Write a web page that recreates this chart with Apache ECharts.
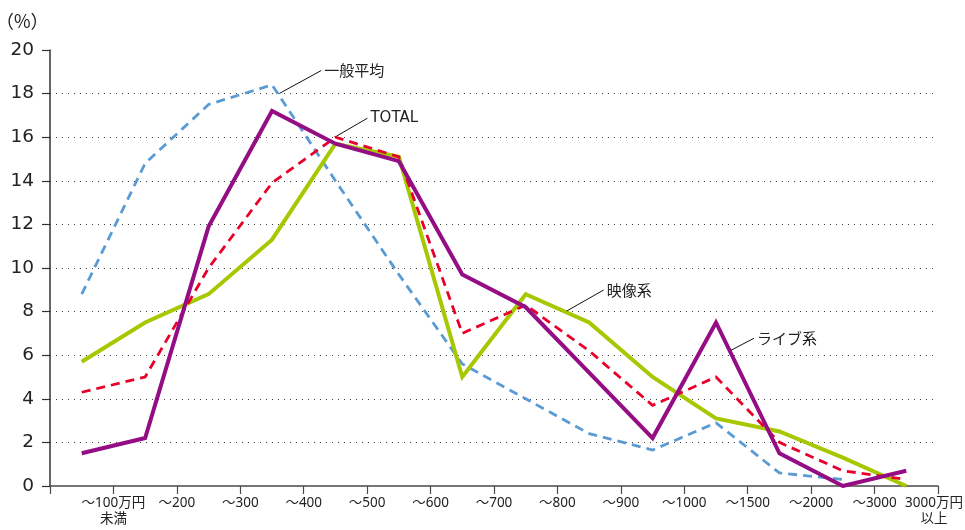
<!DOCTYPE html>
<html>
<head>
<meta charset="utf-8">
<script src="https://cdn.jsdelivr.net/npm/echarts@6/dist/echarts.min.js"></script>
<style>
html, body { margin: 0; padding: 0; background: #fff; }
#chart { width: 965px; height: 530px; }
</style>
</head>
<body>
<div id="chart"></div>
<script>
// Income bands (labels sit on the upper boundary of each band)
const incomeBands = ['〜100万円\n未満', '〜200', '〜300', '〜400', '〜500', '〜600', '〜700',
  '〜800', '〜900', '〜1000', '〜1500', '〜2000', '〜3000', '3000万円\n以上'];

// Share of respondents per band (%)
const generalAverage = [8.8, 14.8, 17.5, 18.4, 14.0, 9.7, 5.6, 4.0, 2.4, 1.65, 2.9, 0.6, 0.3, null];
const total          = [4.3, 5.0, 10.0, 13.9, 16.0, 15.1, 7.0, 8.3, 6.2, 3.7, 5.0, 2.0, 0.7, 0.3];
const video          = [5.7, 7.5, 8.8, 11.3, 15.7, 15.1, 5.0, 8.8, 7.5, 5.0, 3.1, 2.5, 1.3, 0.0];
const live           = [1.5, 2.2, 11.9, 17.2, 15.7, 14.9, 9.7, 8.2, 5.2, 2.2, 7.5, 1.5, 0.0, 0.7];

// Y axis scale
const yMin = 0, yMax = 20, yStep = 2;

const seriesNames = { general: '一般平均', total: 'TOTAL', video: '映像系', live: 'ライブ系' };

// Each value is plotted at the middle of its band
function bandPoints(values) {
  return values.map((v, i) => [i + 0.5, v]).filter(p => p[1] !== null);
}

const chart = echarts.init(document.getElementById('chart'), null, { renderer: 'canvas' });

const numFont = "'DejaVu Sans', 'Noto Sans CJK JP', sans-serif";
const tickFont = "'Noto Sans', 'Noto Sans CJK JP', sans-serif";
const jpFont = "'Noto Sans CJK JP', 'DejaVu Sans', sans-serif";

chart.setOption({
  animation: false,
  backgroundColor: '#ffffff',
  grid: { left: 50, right: 27, top: 50, bottom: 44, containLabel: false, outerBoundsMode: 'none' },
  xAxis: {
    type: 'value',
    min: 0,
    max: incomeBands.length,
    interval: 1,
    axisLine: { show: true, lineStyle: { color: '#4a4a4a', width: 1.5 } },
    axisTick: { show: true, length: 8, lineStyle: { color: '#4a4a4a', width: 1.2 } },
    splitLine: { show: false },
    axisLabel: {
      show: true,
      margin: 9,
      color: '#222',
      fontSize: 13.5,
      fontFamily: tickFont,
      lineHeight: 16,
      showMinLabel: true,
      showMaxLabel: true,
      formatter: v => {
        if (v < 1 || v > incomeBands.length) return '';
        const label = incomeBands[v - 1];
        // the last label is nudged left so it stays inside the canvas
        return v === incomeBands.length
          ? label.split('\n').map(s => '{edge|' + s + '}').join('\n')
          : label;
      },
      rich: {
        edge: { fontSize: 13.5, fontFamily: tickFont, color: '#222', lineHeight: 16, padding: [0, 8, 0, 0] }
      }
    }
  },
  yAxis: {
    type: 'value',
    min: yMin,
    max: yMax,
    interval: yStep,
    axisLine: { show: true, lineStyle: { color: '#333', width: 1.5 } },
    axisTick: { show: true, inside: false, length: 8, lineStyle: { color: '#333', width: 1.2 } },
    splitLine: {
      show: true,
      showMinLine: false,
      showMaxLine: false,
      lineStyle: { color: '#444', width: 1, type: [1, 5] }
    },
    axisLabel: { margin: 16, color: '#222', fontSize: 18.5, fontFamily: numFont }
  },
  series: [
    {
      name: seriesNames.general, type: 'line', data: bandPoints(generalAverage),
      symbol: 'none', z: 2,
      lineStyle: { color: '#5b9bd5', width: 2.8, type: [9, 6], join: 'miter' }
    },
    {
      name: seriesNames.video, type: 'line', data: bandPoints(video),
      symbol: 'none', z: 3,
      lineStyle: { color: '#a6c800', width: 4, type: 'solid', join: 'miter' }
    },
    {
      name: seriesNames.total, type: 'line', data: bandPoints(total),
      symbol: 'none', z: 4,
      lineStyle: { color: '#e8002a', width: 2.8, type: [9, 6], join: 'miter' }
    },
    {
      name: seriesNames.live, type: 'line', data: bandPoints(live),
      symbol: 'none', z: 5,
      lineStyle: { color: '#950d84', width: 4, type: 'solid', join: 'miter' }
    }
  ]
});

// Leader-line annotations anchored on points of each line
function px(values, i) {
  return chart.convertToPixel({ gridIndex: 0 }, [i + 0.5, values[i]]);
}
function along(values, i, t) {
  const a = px(values, i), b = px(values, i + 1);
  return [a[0] + (b[0] - a[0]) * t, a[1] + (b[1] - a[1]) * t];
}

const callouts = [
  { text: seriesNames.general, start: along(generalAverage, 3, 0.1), dx: 42, dy: -23, font: jpFont },
  { text: seriesNames.total, start: along(total, 4, 0.0), dx: 31, dy: -18, font: numFont },
  { text: seriesNames.video, start: along(video, 7, 0.63), dx: 37, dy: -21, font: jpFont },
  { text: seriesNames.live, start: along(live, 10, 0.22), dx: 23, dy: -12, font: jpFont }
];

const graphics = [{
  type: 'text', x: -4, y: 21, z: 10,
  style: { text: '（%）', fill: '#222', fontSize: 18, fontFamily: jpFont, verticalAlign: 'middle' }
}];
callouts.forEach(c => {
  const x1 = c.start[0] + 1, y1 = c.start[1] - 1;
  const x2 = x1 + c.dx, y2 = y1 + c.dy;
  graphics.push({
    type: 'line', z: 10,
    shape: { x1, y1, x2, y2 },
    style: { stroke: '#111', lineWidth: 1 }
  });
  graphics.push({
    type: 'text', z: 10, x: x2 + 3, y: y2,
    style: { text: c.text, fill: '#222', fontSize: 15, fontFamily: c.font, verticalAlign: 'middle' }
  });
});
chart.setOption({ graphic: graphics });
</script>
</body>
</html>
